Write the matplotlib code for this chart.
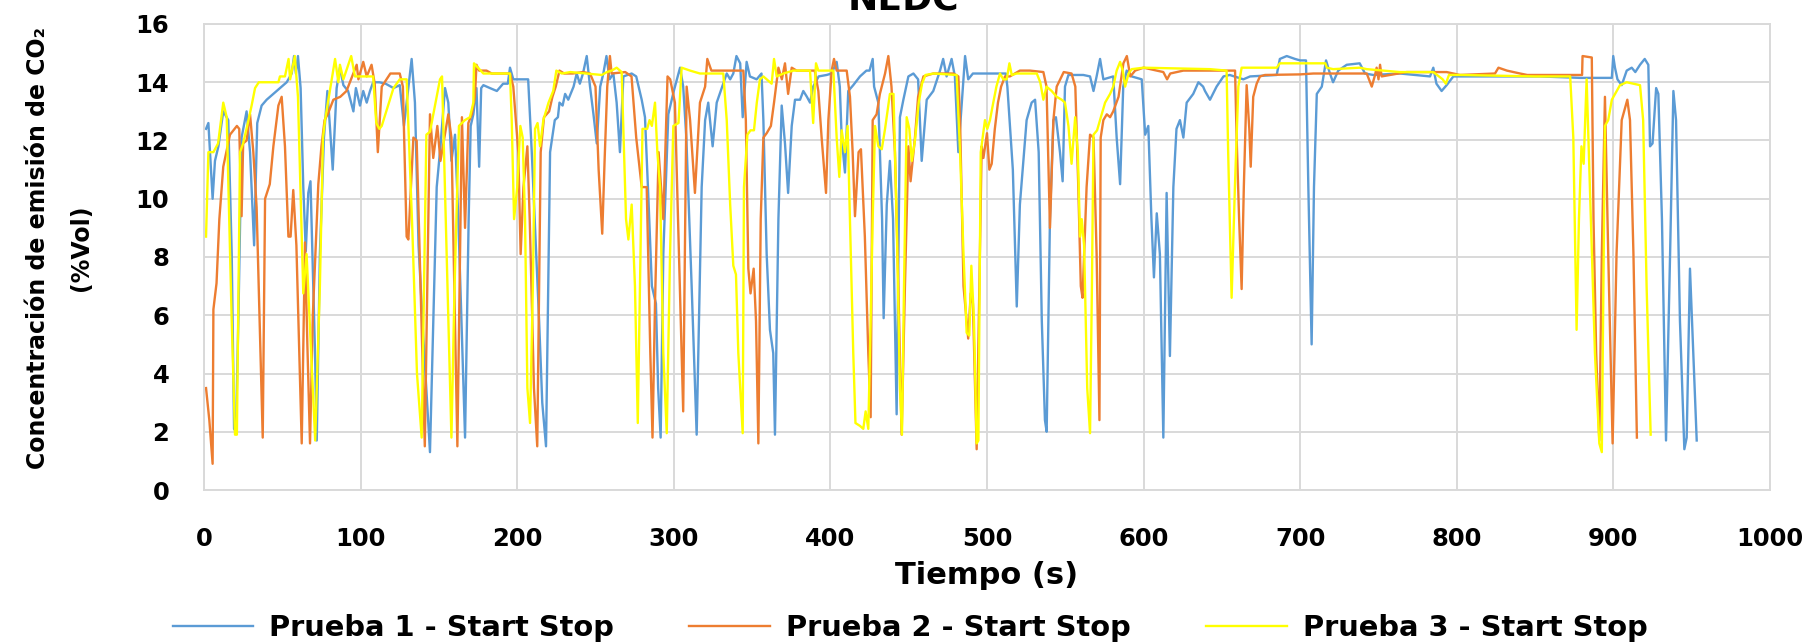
import matplotlib
matplotlib.use("Agg")
import matplotlib.pyplot as plt

# ---------------- data ----------------
title = "NEDC"
x_label = "Tiempo (s)"
y_label = "Concentración de emisión de CO₂\n(%Vol)"
series_names = ["Prueba 1 - Start Stop", "Prueba 2 - Start Stop", "Prueba 3 - Start Stop"]
x_ticks = [0, 100, 200, 300, 400, 500, 600, 700, 800, 900, 1000]
y_ticks = [0, 2, 4, 6, 8, 10, 12, 14, 16]

# Prueba 1 (blue)
t1 = [1.3, 2.8, 5.5, 7, 9.2, 12.3, 15.5, 17.7, 19.2, 20.4, 22, 24, 27.2, 29.4, 32, 34, 36.8, 40, 46.4, 52.8,
      56, 57.5, 58.7, 60, 61.7, 63.4, 65, 66.6, 68, 70.9, 72, 74, 76.6, 78.8, 80.5, 82.2, 84.7, 86.8, 89, 92,
      95.4, 97, 99.6, 101.7, 103.9, 106, 108, 112, 116, 121, 125, 127.7, 130.5, 132.6, 134.7, 137, 140, 144.3,
      146.4, 148.6, 151, 153.9, 156, 158, 160.3,
      162.4, 166.7, 169, 170.3, 172, 174, 175.7, 177, 178.4, 182.6, 187, 191, 194, 195.4, 197.5, 207, 209.3,
      214, 216, 218.4, 221, 224, 226, 227, 229, 230.6, 232.6, 236, 238, 240, 242, 244.4, 246.5, 248.7, 250.8,
      253, 255, 257, 259, 261.4, 263.5, 265.6, 267.8, 273.1, 276, 279.5, 281.6, 283.8, 286, 288.6, 290, 291.6,
      293.3, 296.5, 300, 304, 306, 308, 311.4, 314.6, 317.8, 320, 322,
      324.8, 327.4, 330.6, 333.8, 336, 338, 340, 342.4, 344, 346.5, 348.6, 352.9, 356, 357.2, 359.3, 361.4,
      363.5, 364.6, 366.8, 368.9, 371, 373, 375.3, 377.4, 380.6, 382.7, 385, 387, 389, 392.5, 397.6, 400.8,
      404, 406, 407.2, 409.3, 411.4, 414.6, 418.9, 423, 425, 427, 427.9, 430.6, 433, 434, 436, 438, 440, 442.3,
      444.4, 446.6, 449.8, 453, 456, 458.3, 461.5, 465.7, 470, 472, 474.2, 477.4, 479.5, 481.7,
      486, 488, 491, 512, 513, 516.5, 519, 521, 525.3, 528.5, 530.7, 533, 535, 537, 538.1, 540.2, 542.4, 544,
      546.6, 548.3, 549.8, 552, 561.5, 565.8, 568, 570, 572.2, 574.3, 580.6, 582.8, 585, 587, 589.2, 592.4,
      598.8, 601, 603, 605, 606.6, 608.4, 610.4, 612.6, 614.7, 616.8, 619, 621, 623.2, 625.4, 627.5, 631.7,
      635, 638,
      639.2, 642.4, 646.6, 651, 655, 663.7, 668, 685, 687, 691.4, 696.7, 700, 703.7, 705.2, 707.3, 708.8,
      710.6, 713.8, 716.5, 719, 721, 724.3, 729.7, 738, 741.4, 746.7, 763.7, 782.9, 785, 787, 790.3, 793.5,
      797.8,
      802, 821, 853, 878.7, 899, 899.9, 901, 902.6, 905.3, 908.5, 911.7, 914, 917, 920, 922.3, 923.4, 925,
      927.3, 928.7, 931, 933.6, 936.2, 938.3, 940, 942.5, 945.3, 946.8, 948.9, 953.2]
co2_1 = [12.4, 12.6, 10.0, 11.3, 11.8, 13.0, 12.7, 8.1, 2.1, 2.0, 6.0, 12.1, 13.0, 11.6, 8.4, 12.6, 13.2, 13.4, 13.7, 14.0,
         14.3, 14.9, 14.3, 14.9, 13.8, 10.4, 8.2, 10.2, 10.6, 4.7, 1.7, 8.1, 12.1, 13.7, 12.4, 11.0, 13.8, 14.5, 13.9, 13.7,
         13.0, 13.8, 13.2, 13.7, 13.3, 13.7, 14.0, 14.0, 13.95, 13.8, 13.9, 12.5, 13.8, 14.8, 13.3, 8.4, 5.3, 1.3,
         5.8, 10.4, 11.8, 13.8, 13.3, 11.3, 12.2,
         9.3, 1.8, 9.3, 12.5, 12.9, 13.8, 11.1, 13.8, 13.9, 13.8, 13.7, 13.95, 13.95, 14.5, 14.1, 14.1, 11.6,
         5.8, 3.0, 1.5, 11.6, 12.7, 12.8, 13.3, 13.2, 13.6, 13.4, 13.85, 14.3, 13.95, 14.3, 14.9, 13.85, 12.9, 11.9,
         13.85, 14.3, 14.9, 14.1, 14.3, 13.3, 11.6, 14.2, 14.3, 14.2, 13.4, 12.8, 10.0, 7.0, 6.4, 3.5, 1.8,
         8.1, 12.9, 13.7, 14.5, 13.85, 12.1, 7.0, 1.9, 10.4, 12.7, 13.3,
         11.8, 13.3, 13.8, 14.3, 14.1, 14.3, 14.9, 14.65, 12.8, 14.7, 14.2, 14.1, 14.3, 12.7, 8.1, 5.5,
         4.7, 1.9, 9.3, 13.2, 11.9, 10.2, 12.5, 13.4, 13.4, 13.7, 13.5, 13.3, 13.85, 14.2, 14.25, 14.3,
         14.7, 13.85, 12.1, 10.9, 13.7, 13.9, 14.2, 14.4, 14.4, 14.8, 13.85, 13.3, 9.3, 5.9, 9.8, 11.3, 9.3, 2.6,
         12.8, 13.4, 14.2, 14.3, 14.1, 11.3, 13.4, 13.7, 14.4, 14.8, 14.2, 14.8, 14.2, 11.6,
         14.9, 14.1, 14.3, 14.3, 13.85, 11.0, 6.3, 9.8, 12.7, 13.3, 13.4, 11.6, 5.8, 2.4, 2.0, 9.3, 12.7, 12.8,
         11.6, 10.6, 13.85, 14.25, 14.25, 14.2, 13.7, 14.2, 14.8, 14.1, 14.2, 12.1, 10.5, 13.85, 14.4, 14.2,
         14.1, 12.2, 12.5, 9.3, 7.3, 9.5, 8.1, 1.8, 10.2, 4.6, 10.4, 12.4, 12.7, 12.1, 13.3, 13.6,
         14.0, 13.85,
         13.7, 13.4, 13.85, 14.2, 14.25, 14.1, 14.2, 14.25, 14.8, 14.9, 14.8, 14.75, 14.75, 10.4, 5.0, 10.4,
         13.6, 13.85, 14.75, 14.3, 14.0, 14.4, 14.6, 14.65, 14.3, 14.25, 14.3, 14.2, 14.5, 13.95, 13.7, 13.9,
         14.2,
         14.2, 14.2, 14.2, 14.15, 14.15, 14.9, 14.5, 14.1, 13.9, 14.4, 14.5, 14.35, 14.6, 14.8, 14.6, 11.8, 11.9,
         13.8, 13.6, 9.3, 1.7, 8.1, 13.7, 12.7, 5.8, 1.4, 1.8, 7.6, 1.7]

# Prueba 2 (orange)
t2 = [1.3, 3.4, 5.5, 6, 8, 9.8, 12.3, 16.6, 21, 22.5, 24, 25, 27.2, 29.4, 31.5, 33.6, 37.5, 39, 42, 44.3,
      47.5, 49.6, 51.7, 53.9, 55.3, 57, 59, 62.4, 64.5, 66, 67.7, 69.5, 73, 75, 77, 79, 82.6, 87, 91, 97.5,
      98.6, 101.7, 103.9, 107, 109, 111, 113.5, 119, 125, 127, 129.4, 130.5, 133.7, 135.8, 141, 144.3, 146.4,
      149, 151, 156, 158, 161.8,
      164.7, 166.7, 168.8, 171, 173, 174, 175.7, 180.4, 183.7, 195.4, 197.5, 200.7, 202.2, 204, 206.5, 208,
      210.7, 212.8, 215, 217.1, 220.4, 222.5, 224.6, 227, 230, 235.5, 242, 246.5, 250, 252, 254.3, 255.8,
      257.5, 259.2, 260.3, 269, 273, 276, 279.5, 282.7, 285, 286.4, 288, 290.3, 293.3, 296, 297.7, 300.7, 303,
      306, 308.2, 310.4, 313.5, 316.7, 320,
      321.4, 324, 344.4, 346, 347.6, 349, 351, 352.5, 354, 355.5, 357.2, 359.3, 362, 364, 366.8, 369, 371, 373,
      375.3, 378.4, 390, 392.3, 394.4, 397.2, 398.7, 400.8, 402.3, 404, 410.4, 412.5, 414.2, 415.7, 418,
      419.5, 422, 424.2, 425.7, 427, 429.5, 431.6, 434.9, 437, 439, 441.2, 443.4, 445.5, 447.6, 449.8, 451.2,
      454, 456, 459.4, 465.7, 478.5, 481.7,
      482.8, 485, 488, 489.6, 491, 493.4, 495.1, 496.6, 497.7, 500, 501.5, 503, 505, 507, 509, 511.5, 514.6,
      521, 527.4, 536, 538, 540.2, 542.4, 544.5, 549, 554, 556.4, 558.3, 559.9, 561, 563.6, 565.8, 568, 570,
      571.8, 572.6, 574.3, 576.5, 578.6, 580.6, 584, 587.1, 589.3, 591.5, 594.6, 600, 612.6, 615, 617, 625.4,
      642.4,
      657.3, 658.4, 659.4, 661, 662.6, 664, 665.8, 667.5, 668.4, 670, 672.2, 674.3, 677.5, 700, 708.4, 742.5,
      745.7, 747.8, 748.8, 750, 751, 752, 768, 793.5, 802,
      824.4, 826.6, 832, 840.4, 845, 880, 880.3, 886.2, 887.3, 889, 891, 892.6, 894.6, 896.7, 899.5, 902,
      905.3, 908.9, 910.6, 912.8, 915]
co2_2 = [3.5, 2.4, 0.9, 6.2, 7.1, 9.3, 11.1, 12.2, 12.5, 12.4, 9.4, 11.9, 12.0, 12.9, 11.6, 9.7, 1.8, 10.0, 10.5, 11.8,
         13.2, 13.5, 11.8, 8.7, 8.7, 10.3, 8.4, 1.6, 8.5, 5.0, 1.6, 6.0, 10.5, 11.8, 12.7, 12.9, 13.4, 13.5, 13.7, 14.6,
         14.1, 14.7, 14.2, 14.6, 13.95, 11.6, 13.85, 14.3, 14.3, 13.85, 8.7, 8.6, 12.1, 12.0, 1.5, 12.9, 11.4,
         12.5, 11.3, 12.9, 12.1, 1.5,
         12.8, 9.0, 12.6, 12.9, 13.5, 14.6, 14.4, 14.4, 14.3, 14.3, 13.85, 11.6, 8.1, 10.4, 11.8, 9.3,
         3.5, 1.5, 11.6, 12.8, 13.0, 13.5, 13.85, 14.4, 14.3, 14.3, 14.35, 14.3, 13.85, 11.0, 8.8, 11.3,
         13.85, 14.9, 14.3, 14.35, 14.2, 12.1, 10.4, 10.4, 4.7, 1.8, 6.4, 11.6, 9.3, 14.2, 14.1, 13.3, 8.7,
         2.7, 13.85, 12.7, 10.2, 13.3, 13.85,
         14.8, 14.4, 14.4, 12.7, 7.6, 6.75, 7.6, 5.8, 1.6, 9.3, 12.1, 12.25, 12.5, 13.3, 14.5, 14.1, 14.65, 13.6,
         14.5, 14.4, 14.4, 13.7, 12.1, 10.2, 12.7, 14.4, 14.8, 14.4, 14.4, 13.5, 11.6, 9.4, 11.6,
         11.7, 8.7, 4.7, 2.5, 12.7, 12.9, 13.6, 14.3, 14.9, 13.85, 11.6, 7.0, 1.9, 7.0, 11.8, 10.6,
         12.1, 13.5, 14.2, 14.3, 14.3, 14.2,
         12.7, 7.0, 5.2, 6.75, 6.4, 1.4, 7.0, 11.8, 11.4, 12.25, 11.0, 11.2, 12.4, 13.3, 13.85, 14.2, 14.2,
         14.4, 14.4, 14.35, 13.85, 9.0, 12.7, 13.85, 14.35, 14.3, 13.85, 10.4, 7.0, 6.6, 10.4, 12.2, 12.1, 8.1,
         2.4, 12.1, 12.7, 12.9, 12.8, 13.0, 13.5, 14.65, 14.9, 14.2, 14.4, 14.5, 14.35, 14.1, 14.3, 14.4,
         14.4,
         14.4, 14.4, 12.1, 9.3, 6.9, 10.4, 13.9, 12.4, 11.1, 13.5, 13.95, 14.2, 14.25, 14.27, 14.3, 14.3,
         13.85, 14.25, 14.5, 14.1, 14.6, 14.2, 14.35, 14.35, 14.25,
         14.3, 14.5, 14.4, 14.3, 14.25, 14.25, 14.9, 14.85, 9.3, 4.7, 1.7, 8.1, 13.5, 8.1, 1.6, 8.1,
         12.7, 13.4, 12.7, 8.1, 1.8]

# Prueba 3 (yellow)
t3 = [1.3, 2.8, 6, 9, 12.3, 14.5, 17.7, 19.8, 21, 23, 25, 28, 30.4, 32.6, 35, 47.5, 48.5, 51.7, 54, 55, 58,
      60, 63.4, 65.5, 71, 74, 76, 77.3, 83.7, 85.8, 86.8, 89, 94, 96.4, 108, 110, 112, 113.5, 121, 125, 129.4,
      133, 136, 139, 142, 144.3, 150.7, 152, 155, 158,
      160, 162.8, 166.6, 169.8, 172, 172.4, 175, 178.4, 195.4, 196.5, 198, 200, 202, 203.5, 205, 206.5, 208.2,
      210, 211.4, 213, 214.6, 216.7, 220, 223, 225, 228.5, 234, 254, 257.3, 260.3, 263.5, 266.7, 267.8, 269.5,
      271, 273.1, 275.2, 277, 278.4, 280, 283, 284.5, 286, 288, 289.5, 291.2, 293.3, 295.5, 297.6, 299.7, 303,
      305, 310.4, 316.7,
      325, 331.6, 333.8, 336, 338, 339.7, 341.2, 344, 344.8, 347, 349, 351.2, 353, 355, 357.2, 359.3, 362.5,
      364, 365.7, 370, 376.3, 387, 389, 390.8, 392.3, 401.9, 404, 405.7, 407.2, 409.3, 411, 412.5, 414.6, 416,
      418.9, 421, 422.5, 424.2, 425.7, 427, 428.5, 430.6, 432.8, 434.9, 438, 440.3, 442.3, 444.4, 445.7, 447,
      448.7, 450.4, 452, 454, 456.4, 458.5, 460.7, 466, 480.6,
      482.8, 485, 487, 488.7, 490, 491.7, 493.4, 494.5, 496, 497.2, 498.7, 500.2, 501.9, 504, 506, 508.3,
      510.4, 512.6, 514.3, 515.8, 519, 531.8, 534, 536, 538, 541.3, 544.5, 547.7, 549.8, 552, 554, 556.3, 558,
      559.4, 560.5, 562, 564, 565.8, 567, 568, 570.3, 572.2, 575.4, 578.6, 580.6, 582.8, 585, 586.7, 588.2,
      590.4, 592.4, 600, 642.4,
      653, 654, 656.2, 658.3, 660.5, 662.6, 685, 687, 702, 716, 717, 721, 738, 742.5, 753, 763.7, 785, 791,
      793, 795, 802,
      850, 872.4, 874.4, 876.5, 878, 879.6, 881, 882.9, 885, 888.2, 891, 892.6, 894.6, 896.7, 899, 904.2,
      908.5, 917, 919, 921.2, 923.8]
co2_3 = [8.7, 11.6, 11.6, 11.9, 13.3, 12.8, 5.8, 1.9, 1.9, 11.6, 11.9, 12.6, 13.2, 13.8, 14.0, 14.0, 14.2, 14.2, 14.8, 14.1, 14.9,
         13.5, 6.75, 8.1, 1.7, 7.0, 12.1, 12.7, 14.8, 14.0, 14.6, 14.1, 14.9, 14.2, 14.2, 12.6, 12.4, 12.5, 13.8, 14.1, 14.1,
         9.0, 4.0, 1.8, 12.2, 12.3, 14.1, 14.2, 8.0, 1.8,
         7.0, 12.5, 12.7, 12.8, 13.3, 14.65, 14.5, 14.3, 14.3, 12.7, 9.3, 10.4, 12.5, 12.1, 9.3, 3.5, 2.3,
         7.0, 12.4, 12.6, 11.8, 12.7, 13.3, 13.7, 14.4, 14.3, 14.35, 14.25, 14.35, 14.4, 14.5, 14.35, 12.4, 9.3,
         8.6, 9.8, 7.0, 2.3, 7.0, 12.4, 12.4, 12.7, 12.5, 13.3, 11.6, 10.4, 4.7, 1.95, 8.1, 12.5, 12.6,
         14.5, 14.4, 14.3,
         14.3, 14.3, 12.7, 9.8, 7.7, 7.4, 4.7, 1.95, 10.4, 12.2, 12.35, 12.35, 13.3, 14.1, 14.2, 14.1, 13.95,
         14.8, 14.2, 14.3, 14.4, 14.4, 12.6, 14.65, 14.4, 14.4, 12.1, 10.75, 12.35, 11.6, 12.5, 9.3, 4.7, 2.3,
         2.2, 2.1, 2.7, 2.1, 5.8, 9.3, 12.5, 11.8, 11.7, 12.4, 13.6, 13.6, 9.3, 3.5, 1.9, 7.0,
         12.8, 12.4, 11.3, 12.0, 13.3, 13.95, 14.25, 14.3, 14.25,
         11.6, 8.1, 5.4, 5.3, 7.7, 5.8, 1.6, 1.7, 11.6, 12.1, 12.7, 12.4, 12.7, 13.3, 13.85, 14.3,
         14.1, 14.1, 14.65, 14.25, 14.3, 14.3, 14.0, 13.4, 13.85, 13.7, 13.5, 13.4, 13.3, 12.5, 11.2, 12.8, 11.6,
         8.7, 9.3, 8.4, 3.5, 1.95, 7.0, 12.2, 12.35, 12.7, 13.3, 13.6, 13.85, 14.4, 14.7, 14.4, 13.85,
         14.3, 14.45, 14.5, 14.45,
         14.4, 11.6, 6.6, 10.4, 13.85, 14.5, 14.5, 14.65, 14.65, 14.65, 14.5, 14.45, 14.5, 14.45, 14.4, 14.35, 14.35, 14.1,
         13.95, 14.25, 14.25,
         14.2, 14.2, 12.1, 5.5, 9.3, 11.8, 11.2, 14.1, 10.4, 4.7, 1.6, 1.3, 12.5, 12.7, 13.4, 13.9,
         14.0, 13.9, 12.7, 7.0, 1.9]

colors = ["#5B9BD5", "#ED7D31", "#FFFF00"]

# ---------------- figure ----------------
FONT = ["DejaVu Sans"]
plt.rcParams["font.family"] = FONT
plt.rcParams["font.weight"] = "bold"

fig = plt.figure(figsize=(18.2, 6.43), dpi=100)
ax = fig.add_axes([204 / 1820, 1 - 490 / 643, 1566 / 1820, 466 / 643])

for tt, vv, c, name in zip([t1, t2, t3], [co2_1, co2_2, co2_3], colors, series_names):
    ax.plot(tt, vv, color=c, lw=1.7, label=name, solid_joinstyle="round")

ax.set_xlim(0, 1000)
ax.set_ylim(0, 16)
ax.set_xticks(x_ticks)
ax.set_yticks(y_ticks)
ax.tick_params(axis="both", length=0, labelsize=17.5)
ax.tick_params(axis="x", pad=27)
ax.tick_params(axis="y", pad=25)
for lab in ax.get_xticklabels() + ax.get_yticklabels():
    lab.set_fontweight("bold")

ax.grid(True, color="#d9d9d9", lw=1.4)
ax.set_axisbelow(True)
for s in ax.spines.values():
    s.set_color("#d9d9d9")
    s.set_linewidth(1.4)

ax.set_xlabel(x_label, fontsize=22, fontweight="bold")
ax.xaxis.set_label_coords(0.5, -(575 - 490) / 466)
ax.xaxis.label.set_va("center")

ax.set_ylabel(y_label, fontsize=17, fontweight="bold", linespacing=2.0, multialignment="center")
ax.yaxis.set_label_coords((60 - 204) / 1566, 0.52)
ax.yaxis.label.set_va("center")

fig.text(903 / 1820, 1 - 10 / 643, title, ha="center", va="baseline", fontsize=26, fontweight="bold")

leg = fig.legend(loc="center", bbox_to_anchor=(0.5, 1 - 628 / 643), ncol=3, frameon=False,
                 prop={"size": 20.8, "weight": "bold"}, handlelength=2.8, handletextpad=0.55,
                 columnspacing=2.6)

fig.savefig("out.png", dpi=100)
